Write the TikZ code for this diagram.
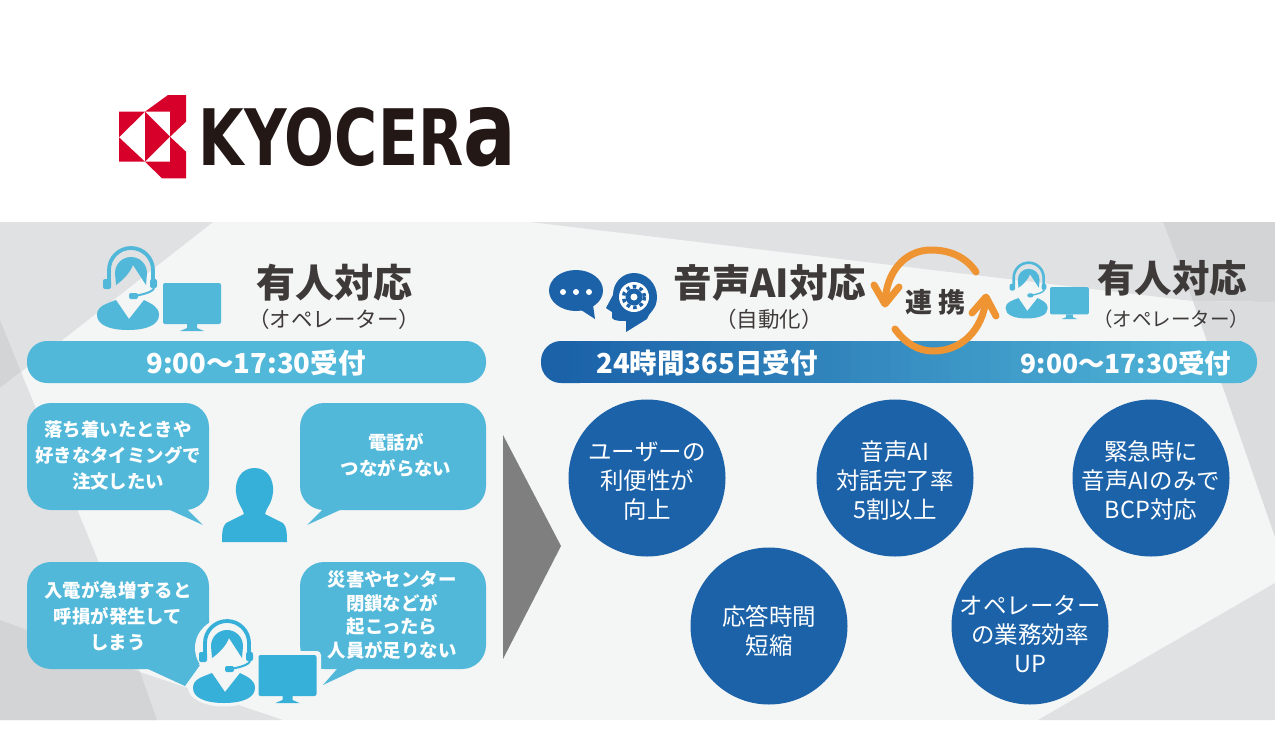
\documentclass[tikz,border=0pt]{standalone}
\usepackage{fontspec}
\setmainfont{Noto Sans CJK JP}
\newfontfamily\logofont{DejaVu Sans}
\usetikzlibrary{arrows.meta}
\definecolor{bgl}{HTML}{F4F5F5}
\definecolor{gra}{HTML}{E0E1E3}
\definecolor{grb}{HTML}{D3D4D6}
\definecolor{grc}{HTML}{DBDCDE}
\definecolor{sky}{HTML}{52B8D9}
\definecolor{skyd}{HTML}{36B0D8}
\definecolor{navy}{HTML}{1B62A9}
\definecolor{ink}{HTML}{3E3A39}
\definecolor{org}{HTML}{EE9433}
\definecolor{kred}{HTML}{D7002A}
\definecolor{arrowg}{HTML}{7F7F7F}
\definecolor{logok}{HTML}{231815}
\tikzset{
 x=1pt,y=-1pt,
 circ/.style={circle,fill=navy,minimum size=157pt,inner sep=0pt},
 circtext/.style={text=white,align=center,font=\fontsize{23.5}{29}\selectfont},
 bub/.style={text=white,align=center,font=\fontsize{18.4}{26}\selectfont\bfseries},
 bartext/.style={text=white,font=\fontsize{27.5}{27}\selectfont\bfseries},
 head/.style={text=ink,font=\fontsize{39}{39}\selectfont\bfseries},
 sub/.style={text=ink,font=\fontsize{21.5}{21}\selectfont},
 barfill/.style={fill=sky,rounded corners=20pt},
 callout/.style={fill=sky,rounded corners=24pt},
 oarc/.style={draw=org,line width=7pt,line cap=round},
 ohead/.style={draw=org,line width=7pt,line cap=round,line join=round},
}
% operator: origin at head centre, drawn at scale 1 for a 62 x 82 figure
\newcommand{\agent}[3]{%
 \begin{scope}[shift={#1},scale=#2]
  \draw[#3,line width=#2*3.8pt] (-21,9) -- (-21,-2) arc[start angle=180,end angle=360,radius=22] -- (23,9);
  \fill[#3,rounded corners=2pt] (-27,7) rectangle (-19,17);
  \fill[#3,rounded corners=2pt] (20,7) rectangle (27,16);
  \fill[#3] (-14,13) -- (-15,1) arc[start angle=180,end angle=360,radius=16] -- (16,13) -- (3,-7) .. controls (0,1) and (-7,8) .. (-14,13) -- cycle;
  \draw[#3,line width=#2*2pt] (24,16) .. controls (23,20) and (12,23) .. (3,24);
  \fill[#3,rounded corners=2pt] (-1,21) rectangle (8,27);
  \fill[#3] (-33,43) .. controls (-33,34) and (-24,32) .. (-14,28) -- (-1,47) -- (14,28) .. controls (22,32) and (29,35) .. (29,43) .. controls (29,53) and (16,58) .. (-2,58) .. controls (-20,58) and (-33,53) .. (-33,43) -- cycle;
 \end{scope}}
\newcommand{\monitor}[3]{%
 \begin{scope}[shift={#1},scale=#2]
  \fill[#3,rounded corners=2pt] (0,0) rectangle (58,41);
  \fill[#3] (24,41) -- (34,41) -- (34,45) -- (41,48) -- (17,48) -- (24,45) -- cycle;
 \end{scope}}
\begin{document}
\begin{tikzpicture}
\useasboundingbox (0,0) rectangle (1275,750);
\fill[white] (0,0) rectangle (1275,750);
\fill[bgl] (0,222) rectangle (1275,720);
% background facets
\fill[gra] (0,222) -- (213,222) -- (65,338) -- (0,388) -- cycle;
\fill[grb] (0,320) -- (21,372) -- (0,388) -- cycle;
\fill[gra] (0,388) -- (21,372) -- (97,558) -- (140,672) -- (283,720) -- (0,720) -- cycle;
\fill[grb] (0,620) -- (140,672) -- (157,720) -- (0,720) -- cycle;
\fill[gra] (530,222) -- (1163,222) -- (1193,301) -- cycle;
\fill[grb] (1163,222) -- (1275,222) -- (1275,302) -- (1193,301) -- cycle;
\fill[grc] (1193,301) -- (1275,302) -- (1275,537) -- cycle;
\fill[gra] (1275,583) -- (1038,720) -- (1275,720) -- cycle;
% logo
\fill[kred] (145,111.700) -- (168,95) -- (186,95) -- (186,121.700) -- (170,136.700) -- (170,111.700) -- cycle;
\fill[kred] (119,111.700) -- (145,111.700) -- (119,137.300) -- cycle;
\fill[kred] (145,111.700) -- (170,136.700) -- (145,161.700) -- cycle;
\fill[kred] (119,137.300) -- (145,161.700) -- (119,161.700) -- cycle;
\fill[kred] (145,161.700) -- (170,161.700) -- (170,136.700) -- (186,151.700) -- (186,178.300) -- (162,178.300) -- cycle;
\node[text=logok,inner sep=0pt] (logo) at (357.500,137) {\resizebox{317pt}{58pt}{\logofont\bfseries KYOCER\scalebox{1.33}{a}}};
% left heading
\agent{(130,272)}{1}{sky}
\monitor{(163,283)}{1}{sky}
\node[head] (t1) at (334,283) {有人対応};
\node[sub] (s1) at (334,319) {（オペレーター）};
\fill[barfill] (27,341) rectangle (486,383);
\node[bartext] (b1) at (256,363) {9:00〜17:30受付};
% bubbles
\fill[callout] (27,403) rectangle (209,510);
\fill[sky] (168,505) -- (170,510) -- (203,525) -- (188,510) -- (188,505) -- cycle;
\fill[callout] (300,403) rectangle (486,510);
\fill[sky] (340,505) -- (340,510) -- (307,525) -- (322,510) -- (322,505) -- cycle;
\fill[callout] (27,562) rectangle (209,669);
\fill[sky] (148,665) -- (148,669) -- (185,686) -- (200,665) -- cycle;
\fill[callout] (300,562) rectangle (486,669);
\fill[sky] (358,665) -- (357,669) -- (323,685) -- (337,669) -- (337,665) -- cycle;
\node[bub] (q1) at (118,456) {落ち着いたときや\\好きなタイミングで\\注文したい};
\node[bub] (q2) at (396,455) {電話が\\つながらない};
\node[bub] (q3) at (118,616) {入電が急増すると\\呼損が発生して\\しまう};
\node[bub,font=\fontsize{18.4}{23.8}\selectfont\bfseries] (q4) at (392,615) {災害やセンター\\閉鎖などが\\起こったら\\人員が足りない};
% person
\fill[skyd] (254.500,468) .. controls (268,468) and (274,480) .. (273,492) .. controls (272,504) and (266,508) .. (265,514) -- (283,523) .. controls (287,527) and (287,534) .. (287,542) -- (222,542) .. controls (222,534) and (222,527) .. (226,523) -- (244,514) .. controls (243,508) and (237,504) .. (236,492) .. controls (235,480) and (241,468) .. (254.500,468) -- cycle;
% operator in bubbles, with its pale halo
\fill[bgl] (226,648) ellipse[x radius=31,y radius=30];
\fill[bgl] (224,688) ellipse[x radius=36,y radius=18.500];
\fill[bgl,rounded corners=4pt] (254,651) rectangle (321,700);
\fill[bgl] (275,696) rectangle (304,705);
\agent{(226,645)}{1}{skyd}
\monitor{(258.500,655)}{1}{skyd}
% big arrow
\fill[arrowg] (503,435) -- (561,546) -- (503,659) -- cycle;
% right heading
\fill[navy] (576,290.500) ellipse[x radius=27,y radius=20.500];
\fill[navy] (578,308) -- (595,319) -- (593,305) -- cycle;
\foreach \i in {563,576,589} \fill[white] (\i,292) circle[radius=3];
\fill[navy] (647,319) .. controls (648,313) and (657,310) .. (657,297) .. controls (657,283) and (646,273) .. (634,273) .. controls (622,273) and (613,283) .. (613,295) -- (606,308) -- (612,312) -- (612,318) .. controls (614,321) and (620,321) .. (626,321) -- (626,332) -- cycle;
\fill[white] (634,297) circle[radius=15];
\fill[navy] (634,297) circle[radius=8.500];
\draw[navy,line width=3.500pt,dash pattern=on 3.500pt off 3.354pt] (634,297) circle[radius=10.500];
\fill[white] (634,297) circle[radius=3.500];
\node[head,font=\fontsize{38.5}{38}\selectfont\bfseries] (t2) at (770,283) {音声AI対応};
\node[sub] (s2) at (769,319) {（自動化）};
% gradient bar, built from overlapping slices
\fill[navy,rounded corners=20pt] (541,341) rectangle (600,383);
\fill[sky,rounded corners=20pt] (1200,341) rectangle (1257,383);
\foreach \k in {0,...,67}{
  \pgfmathtruncatemacro{\pc}{100-\k*100/67}
  \pgfmathsetmacro{\xa}{561+\k*10}
  \pgfmathsetmacro{\xb}{\xa+10.8}
  \fill[navy!\pc!sky] (\xa,341) rectangle (\xb,383);
}
\draw[oarc] (976,272) .. controls (966,257) and (950,250) .. (931,250) .. controls (905,250) and (886,272) .. (885,303);
\draw[ohead] (874,285) -- (885,304) -- (899,287);
\draw[oarc] (895,329) .. controls (905,343) and (918,351) .. (933,351) .. controls (962,351) and (982,330) .. (986,300);
\draw[ohead] (972,313) -- (986,297) -- (996,316);
\node[text=ink,font=\fontsize{27}{27}\selectfont\bfseries] (ren) at (935.500,302) {連 携};
\agent{(1028,279)}{0.68}{sky}
\monitor{(1050,287)}{0.67}{sky}
\node[text=ink,font=\fontsize{37.5}{38}\selectfont\bfseries] (t3) at (1172,278) {有人対応};
\node[sub,font=\fontsize{19.5}{20}\selectfont] (s3) at (1171,319) {（オペレーター）};
\node[bartext] (b2) at (707,363) {24時間365日受付};
\node[bartext,font=\fontsize{26.4}{27}\selectfont\bfseries] (b3) at (1126,363) {9:00〜17:30受付};
% circles
\node[circ] (c1) at (647,478) {};
\node[circ] (c2) at (895,478) {};
\node[circ] (c3) at (1151,478) {};
\node[circ] (c4) at (769,626) {};
\node[circ] (c5) at (1030,626) {};
\node[circtext] (l1) at ([yshift=-3pt]c1.center) {ユーザーの\\利便性が\\向上};
\node[circtext] (l2) at ([yshift=-3pt]c2.center) {音声AI\\対話完了率\\5割以上};
\node[circtext] (l3) at ([yshift=-3pt]c3.center) {緊急時に\\音声AIのみで\\BCP対応};
\node[circtext] (l4) at ([yshift=-5pt]c4.center) {応答時間\\短縮};
\node[circtext] (l5) at ([yshift=-8pt]c5.center) {オペレーター\\の業務効率\\UP};
\end{tikzpicture}
\end{document}
